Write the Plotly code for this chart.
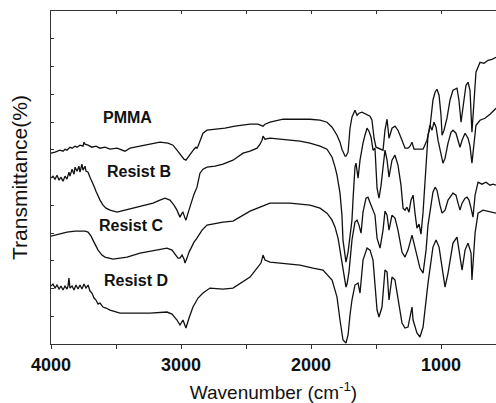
import plotly.graph_objects as go

# ---------------- data (wavenumber cm-1, transmittance a.u.) ----------------
wn_pmma = [4000, 3969, 3931, 3908, 3892, 3877, 3854, 3838, 3815, 3800, 3777, 3754, 3746, 3738, 3715, 3685,
           3654, 3623, 3585, 3546, 3492, 3469, 3431, 3392, 3315, 3238, 3162, 3100, 3062, 3031, 3000, 2977,
           2962, 2946, 2931, 2915, 2900, 2885, 2877, 2869, 2854, 2831, 2800, 2738, 2662, 2585, 2508, 2469,
           2408, 2377, 2369, 2354, 2315, 2215, 2085, 2008, 1931, 1877, 1838, 1800, 1777, 1762, 1738, 1731,
           1715, 1700, 1685, 1662, 1646, 1631, 1608, 1577, 1546, 1531, 1523, 1515, 1500, 1477, 1462, 1446,
           1431, 1415, 1400, 1377, 1354, 1331, 1300, 1277, 1254, 1238, 1223, 1208, 1162, 1138, 1108, 1085,
           1062, 1046, 1031, 1015, 1000, 992, 977, 954, 931, 908, 877, 862, 846, 831, 808, 792,
           777, 762, 746, 731, 700, 669, 638, 608, 577]
t_pmma = [57.3, 57.6, 58.2, 57.9, 58.5, 58.2, 59.1, 58.8, 59.4, 59.1, 59.7, 59.4, 60.6, 60.0, 59.7, 59.1,
          59.4, 58.8, 59.1, 58.5, 58.8, 58.5, 57.9, 58.8, 59.4, 60.0, 60.6, 60.3, 59.7, 58.2, 56.7, 55.5,
          55.2, 56.1, 57.0, 57.9, 58.5, 59.1, 58.8, 59.4, 61.2, 63.3, 64.2, 64.5, 64.8, 65.4, 65.7, 66.0,
          66.0, 65.7, 65.4, 66.0, 66.6, 67.5, 67.5, 67.5, 67.2, 66.6, 65.1, 62.7, 60.6, 58.5, 56.4, 56.4,
          57.6, 64.8, 68.1, 70.2, 68.7, 69.3, 69.6, 69.0, 68.4, 67.2, 64.2, 61.8, 59.1, 58.8, 58.5, 58.2,
          64.2, 67.5, 61.8, 64.8, 65.4, 64.2, 61.2, 58.8, 58.8, 59.4, 60.6, 58.5, 58.5, 58.5, 61.2, 65.1,
          73.2, 75.6, 76.5, 74.7, 68.7, 62.7, 64.2, 67.8, 73.2, 76.2, 76.8, 73.2, 66.6, 70.8, 77.7, 78.6,
          76.2, 63.6, 74.7, 81.6, 84.6, 84.3, 85.2, 85.5, 86.1]

wn_b = [4000, 3985, 3969, 3954, 3938, 3923, 3908, 3892, 3877, 3862, 3854, 3838, 3823, 3815, 3800, 3785,
        3777, 3762, 3754, 3738, 3731, 3715, 3700, 3685, 3669, 3654, 3638, 3623, 3600, 3577, 3546, 3492,
        3431, 3369, 3292, 3215, 3162, 3123, 3085, 3054, 3031, 3008, 2992, 2985, 2969, 2962, 2946, 2931,
        2915, 2900, 2877, 2854, 2831, 2800, 2738, 2677, 2600, 2523, 2469, 2415, 2392, 2377, 2369, 2354,
        2315, 2215, 2085, 2008, 1931, 1877, 1838, 1815, 1800, 1777, 1762, 1754, 1738, 1731, 1715, 1700,
        1685, 1677, 1662, 1654, 1646, 1638, 1623, 1608, 1600, 1585, 1569, 1554, 1538, 1523, 1508, 1492,
        1477, 1462, 1446, 1431, 1415, 1400, 1377, 1354, 1331, 1308, 1292, 1277, 1262, 1246, 1231, 1215,
        1200, 1185, 1169, 1154, 1138, 1123, 1108, 1100, 1085, 1069, 1054, 1038, 1023, 1000, 985, 969,
        946, 923, 908, 885, 869, 854, 838, 815, 792, 777, 762, 746, 731, 700, 662, 623,
        600, 577]
t_b = [49.8, 50.4, 49.5, 50.7, 49.2, 50.1, 48.9, 50.4, 49.5, 51.6, 50.4, 52.5, 51.0, 53.1, 51.9, 53.4,
       51.6, 54.0, 52.2, 53.4, 51.9, 51.6, 50.1, 48.9, 47.4, 45.9, 44.4, 43.2, 41.7, 40.8, 40.2, 39.6,
       40.2, 40.8, 41.4, 42.3, 43.2, 43.8, 43.2, 41.7, 40.2, 38.1, 39.3, 39.6, 37.8, 37.2, 39.3, 41.4,
       43.2, 45.0, 47.1, 51.3, 52.5, 53.1, 53.4, 54.0, 55.2, 57.3, 57.9, 58.8, 60.0, 61.2, 62.4, 61.5,
       61.8, 61.5, 60.9, 60.3, 59.4, 58.5, 56.1, 53.1, 50.7, 45.3, 38.7, 31.2, 26.1, 24.6, 27.6, 33.3,
       37.2, 43.2, 53.1, 54.3, 52.2, 49.8, 55.2, 58.8, 60.3, 62.7, 64.8, 63.9, 62.1, 58.2, 58.8, 46.8,
       43.8, 47.4, 53.7, 58.2, 55.2, 50.1, 55.2, 56.7, 53.7, 47.7, 40.8, 40.2, 41.1, 39.6, 43.2, 44.7,
       39.3, 34.8, 36.0, 33.0, 39.6, 49.2, 56.1, 62.7, 65.7, 64.2, 66.6, 65.1, 61.2, 56.7, 54.3, 55.8,
       60.3, 63.6, 64.2, 63.3, 61.2, 59.1, 61.2, 63.3, 61.8, 59.4, 54.3, 61.2, 65.7, 67.2, 67.8, 69.0,
       69.9, 70.8]

wn_c = [4000, 3931, 3877, 3815, 3777, 3738, 3715, 3692, 3677, 3654, 3638, 3608, 3585, 3523, 3469, 3415,
        3315, 3185, 3108, 3069, 3046, 3023, 3008, 2992, 2977, 2969, 2954, 2938, 2915, 2900, 2877, 2838,
        2800, 2723, 2677, 2600, 2546, 2508, 2469, 2392, 2315, 2162, 2008, 1931, 1877, 1838, 1815, 1792,
        1777, 1762, 1754, 1738, 1731, 1723, 1708, 1685, 1662, 1646, 1631, 1615, 1600, 1577, 1562, 1538,
        1523, 1508, 1492, 1469, 1446, 1431, 1415, 1400, 1377, 1354, 1331, 1300, 1277, 1254, 1223, 1208,
        1185, 1162, 1138, 1115, 1100, 1085, 1062, 1046, 1031, 1008, 992, 969, 946, 908, 885, 869,
        854, 838, 815, 800, 785, 769, 754, 738, 715, 685, 654, 623, 600, 577]
t_c = [32.4, 33.0, 33.6, 33.9, 33.9, 33.9, 33.6, 32.4, 31.2, 29.4, 28.2, 26.7, 26.1, 25.5, 25.8, 26.1,
       27.3, 28.2, 28.8, 28.2, 27.0, 25.8, 25.8, 26.7, 25.5, 24.3, 25.8, 27.6, 29.4, 30.6, 31.8, 34.2,
       35.7, 36.3, 36.6, 36.9, 38.1, 39.0, 39.9, 41.1, 42.3, 42.3, 41.7, 40.8, 39.3, 37.2, 35.1, 31.8,
       28.2, 24.6, 21.3, 18.0, 17.1, 18.0, 21.6, 31.2, 36.6, 37.2, 35.7, 33.3, 39.6, 43.8, 44.1, 41.7,
       40.2, 38.7, 31.8, 28.8, 34.2, 39.9, 38.7, 34.2, 38.7, 37.8, 34.2, 27.6, 26.1, 28.2, 32.7, 30.3,
       25.8, 22.8, 21.3, 28.2, 35.7, 40.2, 45.6, 47.1, 46.2, 41.7, 39.3, 40.2, 43.2, 45.3, 44.7, 42.3,
       40.2, 42.3, 43.8, 44.1, 43.2, 40.8, 38.1, 44.7, 48.6, 48.0, 48.6, 47.7, 48.0, 47.7]

wn_d = [4000, 3985, 3969, 3954, 3938, 3923, 3908, 3892, 3877, 3869, 3862, 3854, 3838, 3823, 3808, 3792,
        3777, 3762, 3746, 3731, 3715, 3700, 3685, 3669, 3654, 3638, 3623, 3600, 3577, 3546, 3469, 3369,
        3238, 3108, 3069, 3031, 3008, 2985, 2962, 2938, 2908, 2869, 2831, 2777, 2677, 2600, 2523, 2469,
        2415, 2385, 2369, 2354, 2315, 2085, 1985, 1908, 1838, 1800, 1777, 1754, 1731, 1715, 1700, 1685,
        1662, 1638, 1623, 1600, 1569, 1546, 1523, 1508, 1492, 1477, 1454, 1431, 1415, 1400, 1377, 1354,
        1331, 1300, 1277, 1254, 1223, 1215, 1185, 1162, 1138, 1100, 1062, 1038, 1015, 992, 969, 946,
        908, 877, 854, 838, 815, 792, 769, 762, 738, 715, 677, 623, 577]
t_d = [17.4, 18.0, 16.8, 17.7, 16.5, 17.4, 16.2, 17.4, 16.5, 17.4, 19.8, 16.8, 17.4, 16.2, 17.7, 16.5,
       17.7, 16.5, 18.0, 16.8, 17.7, 15.9, 15.3, 13.8, 13.2, 12.0, 12.3, 11.1, 10.8, 10.2, 9.3, 9.3,
       9.3, 9.6, 9.0, 7.2, 5.7, 7.2, 4.8, 7.8, 11.1, 13.8, 15.3, 16.8, 16.5, 16.8, 18.6, 20.1,
       22.8, 24.3, 26.7, 25.2, 24.6, 23.7, 22.8, 22.2, 19.2, 14.1, 7.2, 1.2, 0.3, 2.7, 8.7, 13.2,
       17.7, 18.3, 15.3, 25.2, 28.8, 28.2, 25.2, 18.3, 10.2, 8.1, 11.1, 22.2, 21.6, 13.2, 20.1, 19.2,
       14.1, 6.3, 4.8, 5.1, 11.1, 7.2, 3.3, 2.1, 5.1, 18.3, 29.1, 31.2, 29.1, 23.1, 17.1, 21.3,
       30.3, 32.1, 26.1, 22.2, 28.2, 30.3, 27.3, 19.2, 33.3, 39.3, 40.2, 39.6, 39.3]

series = [("PMMA", wn_pmma, t_pmma), ("Resist B", wn_b, t_b),
          ("Resist C", wn_c, t_c), ("Resist D", wn_d, t_d)]

# label anchor positions (wavenumber, transmittance)
label_x = [3410, 3323, 3385, 3346]
label_y = [68.0, 51.9, 35.7, 19.2]

# ---------------- figure ----------------
fig = go.Figure()
for name, xs, ys in series:
    fig.add_trace(go.Scatter(x=xs, y=ys, mode="lines", name=name,
                             line=dict(color="#111111", width=1.3),
                             showlegend=False, hoverinfo="skip"))
# helper trace so the mirrored top axis is drawn
fig.add_trace(go.Scatter(x=[wn_pmma[0]], y=[t_pmma[0]], xaxis="x2", mode="lines",
                         line=dict(width=0), showlegend=False, hoverinfo="skip"))

for (name, _, _), lx, ly in zip(series, label_x, label_y):
    fig.add_annotation(x=lx, y=ly, text=name, showarrow=False,
                       font=dict(family="Liberation Sans, Arial", size=16, color="#111111",
                                 weight="bold"),
                       xanchor="center", yanchor="middle")

axis_col = "#333333"
fig.update_layout(
    width=496, height=403,
    margin=dict(l=51, r=0, t=11, b=59),
    paper_bgcolor="white", plot_bgcolor="white",
    font=dict(family="Liberation Sans, Arial", color="#111111"),
    xaxis=dict(range=[4000, 577], tick0=0, dtick=1000,
               ticks="outside", ticklen=4, tickwidth=1, tickcolor=axis_col,
               minor=dict(dtick=500, ticks="outside", ticklen=4, tickcolor=axis_col, showgrid=False),
               showline=True, linecolor=axis_col, linewidth=1,
               showgrid=False, zeroline=False,
               tickfont=dict(size=18, weight="bold", family="Liberation Sans, Arial"),
               title=dict(text="Wavenumber (cm<sup>-1</sup>)",
                          font=dict(size=19, family="Liberation Sans, Arial"), standoff=12)),
    xaxis2=dict(overlaying="x", matches="x", side="top", tick0=0, dtick=500,
                ticks="inside", ticklen=3, tickcolor=axis_col, showticklabels=False,
                showline=True, linecolor=axis_col, linewidth=1,
                showgrid=False, zeroline=False),
    yaxis=dict(range=[0, 100], tick0=0, dtick=100 / 12,
               ticks="inside", ticklen=3, tickcolor=axis_col, showticklabels=False,
               showline=True, linecolor=axis_col, linewidth=1,
               showgrid=False, zeroline=False,
               title=dict(text="Transmittance(%)",
                          font=dict(size=21, family="Liberation Sans, Arial"), standoff=16)),
)

fig.write_html("out.html")
